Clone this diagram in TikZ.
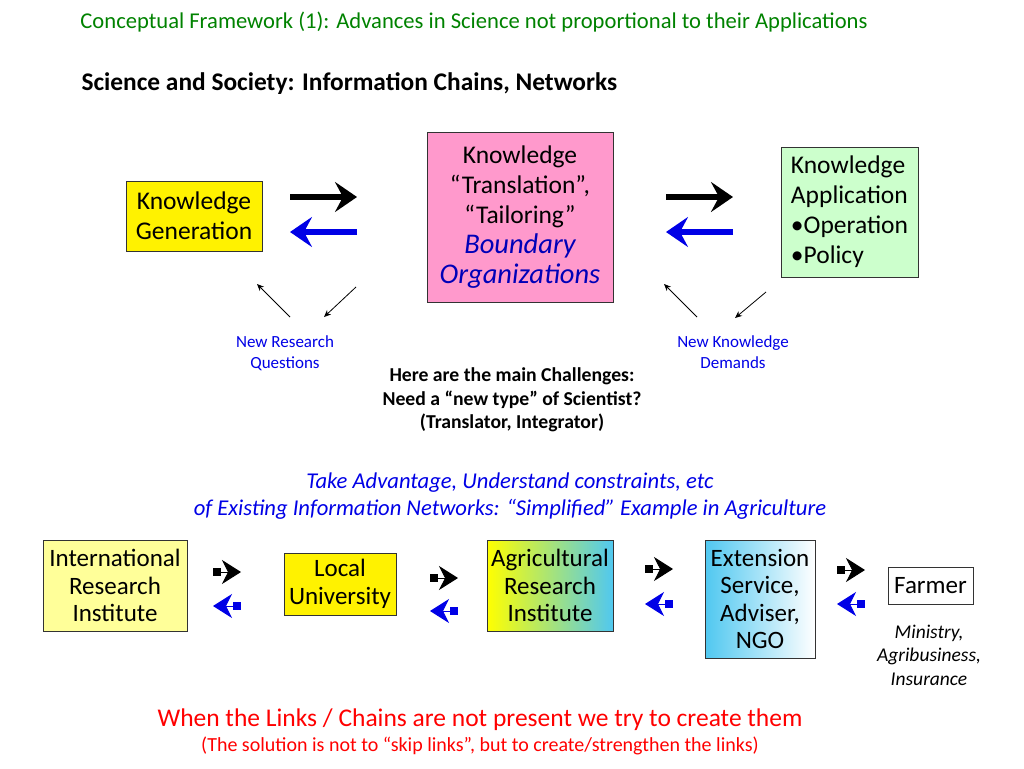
\documentclass[tikz,border=0pt]{standalone}
\usepackage{fontspec}
\setmainfont{Carlito}
\usetikzlibrary{arrows.meta}
\definecolor{ttlgreen}{RGB}{0,130,0}
\definecolor{linkblue}{RGB}{0,0,230}
\definecolor{pinkbox}{RGB}{255,153,204}
\definecolor{greenbox}{RGB}{204,255,204}
\definecolor{paleyellow}{RGB}{255,255,153}
\definecolor{aqua}{RGB}{80,200,240}
\tikzset{
    box/.style = {draw=black!80, line width=0.8pt, align=center, inner sep=0pt, font=\fontsize{25.5}{30}\selectfont},
    lowbox/.style = {box, font=\fontsize{25}{27.5}\selectfont},
    bigfwd/.style = {line width=6pt, -{Stealth[length=22pt,width=30pt,inset=8pt]}},
    bigbck/.style = {line width=6pt, draw=linkblue, -{Stealth[length=22pt,width=30pt,inset=8pt]}},
    thinarr/.style = {line width=0.8pt, -{Stealth[length=7pt,width=6pt]}},
    smalltip/.style = {line width=1pt, -{Stealth[length=19pt,width=24pt,inset=6pt]}},
    note/.style = {text=linkblue, align=center, font=\fontsize{17}{21}\selectfont}
}
\newcommand{\linkpair}[3]{% x-left, y-top, y-bottom
    \fill (#1,#2-4) rectangle ++(8,8);
    \draw [smalltip] (#1+8,#2) -- (#1+28,#2);
    \fill [linkblue] (#1+20,#3-4) rectangle ++(8,8);
    \draw [smalltip, linkblue] (#1+20,#3) -- (#1,#3);
}
\begin{document}
\begin{tikzpicture}[x=1pt, y=-1pt]
    \useasboundingbox (0,0) rectangle (1024,768);

    \node[text=ttlgreen, font=\fontsize{22.6}{26}\selectfont] (title) at (474,22) {Conceptual Framework (1): Advances in Science not proportional to their Applications};
    \node[anchor=west, font=\fontsize{25.4}{28}\selectfont\bfseries] (sub) at (78,84) {Science and Society: Information Chains, Networks};

    % top chain
    \node[box, fill=yellow, minimum width=136pt, minimum height=70pt] (gen) at (194,216) {Knowledge\\Generation};
    \node[box, fill=pinkbox, minimum width=186pt, minimum height=170pt] (trans) at (520,217)
        {Knowledge\\“Translation”,\\“Tailoring”\\{\color{linkblue!80!black}\itshape\fontsize{28.5}{33}\selectfont Boundary}\\{\color{linkblue!80!black}\itshape\fontsize{28.5}{33}\selectfont Organizations}};
    \node[box, fill=greenbox, minimum width=137pt, minimum height=130pt, align=left] (appl) at (849.5,212)
        {Knowledge\\Application\\\textbullet Operation\\\textbullet Policy};

    \draw [bigfwd] (290,197) -- (357,197);
    \draw [bigbck] (357,232) -- (290,232);
    \draw [bigfwd] (666,197) -- (733,197);
    \draw [bigbck] (733,232) -- (666,232);

    \node[note] (rq) at (285,353) {New Research\\Questions};
    \node[note] (kd) at (733,352) {New Knowledge\\Demands};
    \draw [thinarr] (290,317) -- (257,284);
    \draw [thinarr] (356,287) -- (324,317);
    \draw [thinarr] (697,317) -- (664,284);
    \draw [thinarr] (766,292) -- (735,318);

    \node[align=center, font=\fontsize{19.7}{23.5}\selectfont\bfseries] (chal) at (512,400)
        {Here are the main Challenges:\\Need a “new type” of Scientist?\\(Translator, Integrator)};

    \node[text=linkblue, align=center, font=\fontsize{22.6}{27}\selectfont\itshape] (adv) at (510,496)
        {Take Advantage, Understand constraints, etc\\of Existing Information Networks: “Simplified” Example in Agriculture};

    % bottom chain
    \node[lowbox, fill=paleyellow, minimum width=144pt, minimum height=91pt] (intl) at (115,585.5) {International\\Research\\Institute};
    \node[lowbox, fill=yellow, minimum width=112pt, minimum height=62pt] (uni) at (340,584) {Local\\University};
    \node[lowbox, left color=yellow, right color=aqua, minimum width=126pt, minimum height=91pt] (ari) at (550,585.5) {Agricultural\\Research\\Institute};
    \node[lowbox, left color=aqua, right color=white, minimum width=110pt, minimum height=118pt] (ext) at (760,599) {Extension\\Service,\\Adviser,\\NGO};
    \node[lowbox, fill=white, minimum width=85pt, minimum height=37pt] (farm) at (930.5,585.5) {Farmer};

    \linkpair{213}{572}{606}
    \linkpair{430}{578}{611}
    \linkpair{645}{569}{604}
    \linkpair{837}{570}{604}

    \node[align=center, font=\fontsize{19.5}{23.5}\selectfont\itshape] (min) at (929,655) {Ministry,\\Agribusiness,\\Insurance};

    \node[text=red, font=\fontsize{25.5}{28}\selectfont] (warn) at (480,720) {When the Links / Chains are not present we try to create them};
    \node[text=red, font=\fontsize{20}{22}\selectfont] (sol) at (480,746) {(The solution is not to “skip links”, but to create/strengthen the links)};
\end{tikzpicture}
\end{document}
